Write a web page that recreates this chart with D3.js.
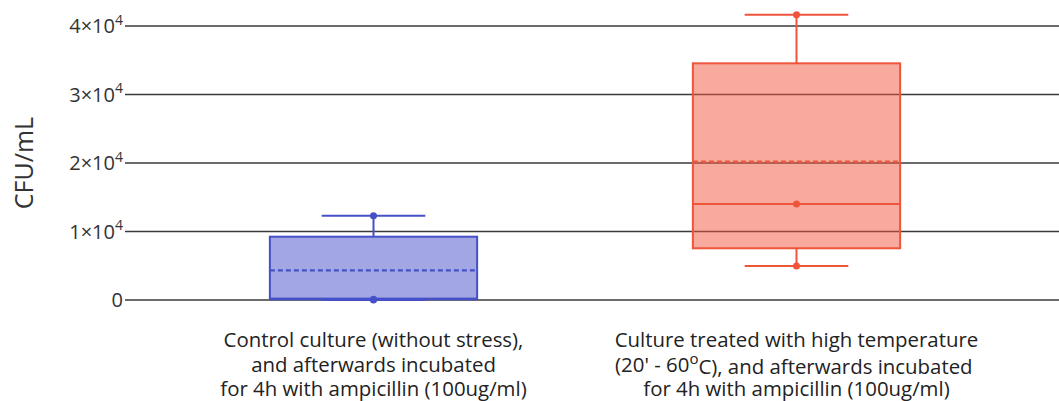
<!DOCTYPE html>
<html>
<head>
<meta charset="utf-8">
<script src="https://cdn.jsdelivr.net/npm/d3@7/dist/d3.min.js"></script>
<style>
  html, body { margin: 0; padding: 0; background: #fff; }
  svg { display: block; font-family: "Open Sans", "Noto Sans", sans-serif; }
</style>
</head>
<body>
<svg id="chart" width="1059" height="401"></svg>
<script>
// Groups (each label split into its lines)
const categories = ["control", "heat"];
const categoryLines = [
  ["Control culture (without stress),", "and afterwards incubated", "for 4h with ampicillin (100ug/ml)"],
  ["Culture treated with high temperature", "(20' - 60|o|C), and afterwards incubated   ", "for 4h with ampicillin (100ug/ml)"]
];

// Box summary per group (CFU/mL)
const minVals    = [0,     4960];
const q1Vals     = [200,   7550];
const medianVals = [100,   14000];
const q3Vals     = [9240,  34550];
const maxVals    = [12300, 41650];
const meanVals   = [4330,  20200];

// Individual measurements per group
const samples = [
  [0, 100, 12300],
  [4960, 14000, 41650]
];

// Y axis ticks
const yTicks = [0, 10000, 20000, 30000, 40000];

const colors = ["#4650c8", "#ef553b"];

const width = 1059, height = 401;
const svg = d3.select("#chart");

const x = d3.scaleBand().domain(categories).range([162, 1008]).padding(0);
const y = d3.scaleLinear().domain([0, 40000]).range([300, 26]);

const boxW = x.bandwidth() * 0.49;
const capW = boxW / 2;

// Horizontal grid lines
svg.append("g").selectAll("line")
  .data(yTicks)
  .join("line")
  .attr("x1", 125).attr("x2", width)
  .attr("y1", d => y(d)).attr("y2", d => y(d))
  .attr("stroke", "#3a3a3a").attr("stroke-width", 1.5);

// Y tick labels: 0, then n×10^4
const tickG = svg.append("g")
  .attr("fill", "#333")
  .attr("font-size", 20)
  .attr("text-anchor", "end");
yTicks.forEach(v => {
  const t = tickG.append("text")
    .attr("x", 123)
    .attr("y", y(v))
    .attr("dy", "0.35em");
  if (v === 0) {
    t.text("0");
  } else {
    const exp = Math.floor(Math.log10(v));
    const mant = v / Math.pow(10, exp);
    t.append("tspan").text(mant + "×10");
    t.append("tspan").attr("font-size", 14).attr("dy", "-0.6em").text(exp);
  }
});

// Y axis title
svg.append("text")
  .attr("transform", `translate(33,${y(20000)}) rotate(-90)`)
  .attr("text-anchor", "middle")
  .attr("fill", "#333")
  .attr("font-size", 25)
  .text("CFU/mL");

// Boxes
categories.forEach((c, i) => {
  const cx = x(c) + x.bandwidth() / 2;
  const col = colors[i];
  const g = svg.append("g");

  // whisker stems
  g.append("line")
    .attr("x1", cx).attr("x2", cx)
    .attr("y1", y(q3Vals[i])).attr("y2", y(maxVals[i]))
    .attr("stroke", col).attr("stroke-width", 2);
  g.append("line")
    .attr("x1", cx).attr("x2", cx)
    .attr("y1", y(q1Vals[i])).attr("y2", y(minVals[i]))
    .attr("stroke", col).attr("stroke-width", 2);

  // box body
  g.append("rect")
    .attr("x", cx - boxW / 2)
    .attr("y", y(q3Vals[i]))
    .attr("width", boxW)
    .attr("height", y(q1Vals[i]) - y(q3Vals[i]))
    .attr("fill", col).attr("fill-opacity", 0.5)
    .attr("stroke", col).attr("stroke-width", 2);

  // median
  g.append("line")
    .attr("x1", cx - boxW / 2).attr("x2", cx + boxW / 2)
    .attr("y1", y(medianVals[i])).attr("y2", y(medianVals[i]))
    .attr("stroke", col).attr("stroke-width", 2);

  // mean (dashed)
  g.append("line")
    .attr("x1", cx - boxW / 2).attr("x2", cx + boxW / 2)
    .attr("y1", y(meanVals[i])).attr("y2", y(meanVals[i]))
    .attr("stroke", col).attr("stroke-width", 2.2)
    .attr("stroke-dasharray", "5,3");

  // whisker caps
  [minVals[i], maxVals[i]].forEach(v => {
    g.append("line")
      .attr("x1", cx - capW / 2).attr("x2", cx + capW / 2)
      .attr("y1", y(v)).attr("y2", y(v))
      .attr("stroke", col).attr("stroke-width", 2);
  });

  // sample points
  g.selectAll("circle")
    .data(samples[i])
    .join("circle")
    .attr("cx", cx).attr("cy", d => y(d))
    .attr("r", 3.5)
    .attr("fill", col);
});

// Category labels
const labG = svg.append("g")
  .attr("fill", "#222")
  .attr("font-size", 20.4)
  .attr("text-anchor", "middle")
  .style("white-space", "pre");
categories.forEach((c, i) => {
  const cx = x(c) + x.bandwidth() / 2;
  const t = labG.append("text").attr("x", cx).attr("y", 347);
  categoryLines[i].forEach((line, k) => {
    const tl = t.append("tspan").attr("x", cx).attr("y", 347 + k * 24.5);
    // segments wrapped in |...| are drawn raised and smaller
    line.split("|").forEach((seg, s) => {
      if (s % 2 === 1) {
        tl.append("tspan").attr("font-size", 15).attr("dy", "-0.5em").text(seg);
      } else if (s > 0) {
        tl.append("tspan").attr("dy", "0.5em").text(seg);
      } else {
        tl.append("tspan").text(seg);
      }
    });
  });
});
</script>
</body>
</html>
